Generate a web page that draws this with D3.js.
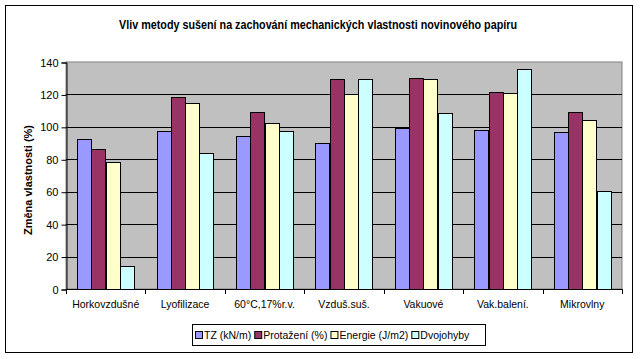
<!DOCTYPE html>
<html><head><meta charset="utf-8">
<script src="https://cdn.jsdelivr.net/npm/d3@7/dist/d3.min.js"></script>
<style>body{margin:0;background:#fff;}svg{display:block;font-family:Arial,"Liberation Sans",sans-serif;}</style>
</head><body><svg id="c" width="642" height="359"></svg>
<script>
const categories = ["Horkovzdušné","Lyofilizace","60°C,17%r.v.","Vzduš.suš.","Vakuové","Vak.balení.","Mikrovlny"];
const seriesNames = ["TZ (kN/m)","Protažení (%)","Energie (J/m2)","Dvojohyby"];
const tz = [92.3, 97.3, 94.2, 89.9, 99.1, 97.9, 96.6];
const protazeni = [86.2, 118.2, 109.0, 129.3, 129.9, 121.3, 109.0];
const energie = [78.1, 114.5, 102.2, 120.1, 129.3, 120.7, 104.0];
const dvojohyby = [14.0, 83.7, 97.3, 129.3, 108.4, 135.5, 60.2];
const yTicks = [0,20,40,60,80,100,120,140];
const colors = ["#9999FF","#993366","#FFFFCC","#CCFFFF"];
const title = "Vliv metody sušení na zachování mechanických vlastnosti novinového papíru";
const yLabel = "Změna vlastnosti (%)";

const series = [tz, protazeni, energie, dvojohyby];
const svg = d3.select("#c");
const L = 66, R = 622, T = 62, B = 289;

svg.append("rect").attr("x",5.5).attr("y",5.5).attr("width",627).attr("height",347)
  .attr("fill","#fff").attr("stroke","#000").attr("stroke-width",1);

svg.append("text").attr("x",318).attr("y",29).attr("text-anchor","middle")
  .attr("font-size","12px").attr("font-weight","bold")
  .attr("textLength",398).attr("lengthAdjust","spacingAndGlyphs").text(title);

const x = d3.scaleBand().domain(categories).range([L,R]).paddingInner(0.28).paddingOuter(0.14);
const y = d3.scaleLinear().domain([0,140]).range([B,T]);
const xs = d3.scaleBand().domain(d3.range(4)).range([0,x.bandwidth()]);

svg.append("rect").attr("x",L).attr("y",T).attr("width",R-L).attr("height",B-T)
  .attr("fill","#C0C0C0").attr("stroke","#808080");

svg.append("g").selectAll("line").data(yTicks.slice(1,-1)).join("line")
  .attr("x1",L).attr("x2",R).attr("y1",d=>Math.round(y(d))+0.5).attr("y2",d=>Math.round(y(d))+0.5)
  .attr("stroke","#000");

const g = svg.append("g");
categories.forEach((c,i)=>{
  series.forEach((s,j)=>{
    g.append("rect").attr("x",Math.round(x(c)+xs(j))+0.5).attr("y",Math.round(y(s[i]))+0.5)
      .attr("width",Math.round(xs.bandwidth())).attr("height",Math.round(B-y(s[i])))
      .attr("fill",colors[j]).attr("stroke","#000");
  });
});

const yAxis = svg.append("g").attr("transform",`translate(${L+0.5},0.5)`)
  .call(d3.axisLeft(y).tickValues(yTicks).tickSize(5).tickPadding(3).tickFormat(d3.format("d")));
yAxis.selectAll("text").attr("font-size","11px").attr("font-family","Arial");
yAxis.selectAll("line,path").attr("stroke","#000");

const xTicks = d3.range(categories.length+1).map(i=>L + i*(R-L)/categories.length);
const xa = svg.append("g");
xa.append("line").attr("x1",L).attr("x2",R).attr("y1",B+0.5).attr("y2",B+0.5).attr("stroke","#000");
xa.selectAll("line.t").data(xTicks).join("line").attr("class","t")
  .attr("x1",d=>Math.round(d)+0.5).attr("x2",d=>Math.round(d)+0.5).attr("y1",B).attr("y2",B+5).attr("stroke","#000");
xa.selectAll("text").data(categories).join("text")
  .attr("x",d=>x(d)+x.bandwidth()/2).attr("y",308).attr("text-anchor","middle")
  .attr("font-size","10.5px").text(d=>d);

svg.append("text").attr("transform","translate(32,180) rotate(-90)").attr("text-anchor","middle")
  .attr("font-size","11px").attr("font-weight","bold").text(yLabel);

const lg = svg.append("g");
lg.append("rect").attr("x",192.5).attr("y",324.5).attr("width",293).attr("height",21)
  .attr("fill","#fff").attr("stroke","#000");
let lx = 195;
seriesNames.forEach((n,j)=>{
  lg.append("rect").attr("x",lx+0.5).attr("y",331.5).attr("width",7).attr("height",7)
    .attr("fill",colors[j]).attr("stroke","#000");
  const t = lg.append("text").attr("x",lx+9).attr("y",339).attr("font-size","10.5px").text(n);
  lx += t.node().getComputedTextLength() + 12;
});
</script></body></html>
